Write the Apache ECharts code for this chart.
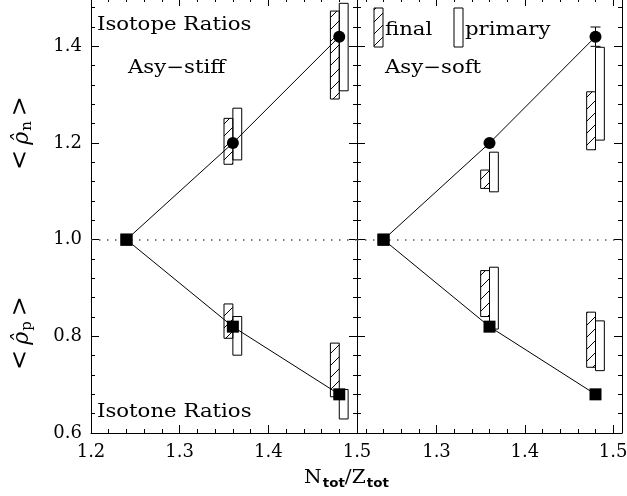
<!DOCTYPE html>
<html>
<head>
<meta charset="utf-8">
<script src="https://cdn.jsdelivr.net/npm/echarts@6/dist/echarts.min.js"></script>
<style>
html, body { margin: 0; padding: 0; background: #fff; }
#main { width: 627px; height: 496px; }
</style>
</head>
<body>
<div id="main"></div>
<script>
// N/Z of the three systems
var xVals = [1.24, 1.36, 1.48];
// mean ratios (line + dots)
var stiffN = [1.0, 1.2, 1.42];
var stiffP = [1.0, 0.82, 0.68];
var softN = [1.0, 1.2, 1.42];
var softP = [1.0, 0.82, 0.68];
// boxes [low, high] at x = 1.36 and 1.48
var barX = [1.36, 1.48];
var stiffFinalN = [[1.156, 1.251], [1.291, 1.473]];
var stiffPrimN = [[1.165, 1.272], [1.308, 1.489]];
var stiffFinalP = [[0.796, 0.867], [0.675, 0.786]];
var stiffPrimP = [[0.761, 0.841], [0.629, 0.690]];
var softFinalN = [[1.106, 1.144], [1.186, 1.306]];
var softPrimN = [[1.099, 1.181], [1.206, 1.398]];
var softFinalP = [[0.841, 0.936], [0.736, 0.850]];
var softPrimP = [[0.815, 0.943], [0.729, 0.832]];
// error bar on the soft 1.48 point: [x, low, high]
var softErr = [[1.48, 1.40, 1.44]];
// ticks
var yTicks = [0.6, 0.8, 1.0, 1.2, 1.4];
var xTicksL = [1.2, 1.3, 1.4, 1.5];
var xTicksR = [1.3, 1.4, 1.5];

function steps(a, b, d) {
    var out = [];
    for (var v = a; v <= b + 1e-9; v += d) out.push(Math.round(v * 1000) / 1000);
    return out;
}
var yMinor = steps(0.64, 1.48, 0.04);
var xMinorL = steps(1.22, 1.48, 0.02);
var xMinorR = steps(1.22, 1.50, 0.02);

var FONT = 'DejaVu Serif';

function hatchImg() {
    var c = document.createElement('canvas');
    c.width = 12; c.height = 12;
    var g = c.getContext('2d');
    g.strokeStyle = '#000';
    g.lineWidth = 1;
    g.beginPath();
    g.moveTo(0, 12); g.lineTo(12, 0);
    g.moveTo(-1, 1); g.lineTo(1, -1);
    g.moveTo(11, 13); g.lineTo(13, 11);
    g.stroke();
    return c;
}
var hatch = { image: hatchImg(), repeat: 'repeat' };

// four axes per side pair: major + minor ticks, both sides
function axes(dim, grid, min, max, major, minor, labels) {
    var pos = dim === 'x' ? ['bottom', 'top'] : ['left', 'right'];
    var list = [];
    pos.forEach(function (p, i) {
        [major, minor].forEach(function (vals, j) {
            list.push({
                type: 'value', gridIndex: grid, position: p,
                min: min, max: max,
                axisLine: { show: j === 0, onZero: false, lineStyle: { color: '#000', width: 1 } },
                axisTick: { show: true, inside: true, length: j === 0 ? 8 : 4, customValues: vals,
                    lineStyle: { color: '#000', width: 1 } },
                axisLabel: {
                    show: labels && i === 0 && j === 0,
                    customValues: vals,
                    color: '#000', fontFamily: FONT, fontSize: 18,
                    margin: dim === 'x' ? 10 : 9,
                    formatter: function (v) { return v.toFixed(1); }
                },
                splitLine: { show: false }
            });
        });
    });
    return list;
}

function boxes(finals, prims) {
    var d = [];
    barX.forEach(function (x, i) {
        d.push([x, finals[i][0], finals[i][1], 0]);
        d.push([x, prims[i][0], prims[i][1], 1]);
    });
    return d;
}

var barW = 0.01;
function renderBox(params, api) {
    var x = api.value(0), kind = api.value(3);
    var x0 = kind === 0 ? x - barW : x;
    var a = api.coord([x0, api.value(2)]);
    var b = api.coord([x0 + barW, api.value(1)]);
    return {
        type: 'rect',
        shape: { x: a[0], y: a[1], width: b[0] - a[0], height: b[1] - a[1] },
        style: { fill: kind === 0 ? hatch : 'none', stroke: '#000', lineWidth: 1 }
    };
}

function renderErr(params, api) {
    var lo = api.coord([api.value(0), api.value(1)]);
    var hi = api.coord([api.value(0), api.value(2)]);
    var st = { stroke: '#000', lineWidth: 1 };
    return {
        type: 'group',
        children: [
            { type: 'line', shape: { x1: lo[0], y1: lo[1], x2: hi[0], y2: hi[1] }, style: st },
            { type: 'line', shape: { x1: hi[0] - 5, y1: hi[1], x2: hi[0] + 5, y2: hi[1] }, style: st },
            { type: 'line', shape: { x1: lo[0] - 5, y1: lo[1], x2: lo[0] + 5, y2: lo[1] }, style: st }
        ]
    };
}

function pts(ys, sym) {
    return xVals.map(function (x, i) {
        var item = { value: [x, ys[i]] };
        if (i === 0) item.symbol = 'rect';
        else item.symbol = sym;
        return item;
    });
}

function lineSeries(ys, sym, xi, withRef) {
    var s = {
        type: 'line', xAxisIndex: xi, yAxisIndex: xi,
        data: pts(ys, sym), symbolSize: 12, z: 5,
        itemStyle: { color: '#000' },
        lineStyle: { color: '#000', width: 1 }
    };
    if (withRef) {
        s.markLine = {
            silent: true, symbol: 'none', label: { show: false },
            lineStyle: { color: '#555', width: 1.5, type: [1.5, 6.5] },
            data: [{ yAxis: 1.0 }]
        };
    }
    return s;
}

function boxSeries(data, xi) {
    return {
        type: 'custom', xAxisIndex: xi, yAxisIndex: xi, z: 3,
        renderItem: renderBox, data: data,
        encode: { x: 0, y: [1, 2] }
    };
}

var chart = echarts.init(document.getElementById('main'), null, { renderer: 'canvas' });

var txt = { fontFamily: FONT, fontSize: 18, fill: '#000', verticalAlign: 'middle' };
function label(x, y, s) {
    return { type: 'text', x: x, y: y, scaleX: 1.18, style: Object.assign({ text: s }, txt) };
}
function yTitle(y, sub) {
    return {
        type: 'text', x: 22, y: y, rotation: Math.PI / 2,
        style: {
            text: '{a|<}{r|ρ̂}{s|' + sub + '}{a|>}',
            align: 'center', verticalAlign: 'middle',
            rich: {
                a: { fontFamily: FONT, fontSize: 24, padding: [0, 5], verticalAlign: 'top' },
                r: { fontFamily: FONT, fontSize: 22, fontStyle: 'italic', verticalAlign: 'top', padding: [2, 0, 0, 0] },
                s: { fontFamily: FONT, fontSize: 15, padding: [11, 0, 0, 1], verticalAlign: 'top' }
            }
        }
    };
}

var option = {
    animation: false,
    grid: [
        { left: 91, top: -2, width: 266, height: 435, outerBoundsMode: 'none', containLabel: false },
        { left: 357, top: -2, width: 265, height: 435, outerBoundsMode: 'none', containLabel: false }
    ],
    xAxis: axes('x', 0, 1.2, 1.5, xTicksL, xMinorL, true)
        .concat(axes('x', 1, 1.21, 1.51, xTicksR, xMinorR, true)),
    yAxis: axes('y', 0, 0.6, 1.5, yTicks, yMinor, true)
        .concat(axes('y', 1, 0.6, 1.5, yTicks, yMinor, false)),
    series: [
        boxSeries(boxes(stiffFinalN, stiffPrimN), 0),
        boxSeries(boxes(stiffFinalP, stiffPrimP), 0),
        boxSeries(boxes(softFinalN, softPrimN), 4),
        boxSeries(boxes(softFinalP, softPrimP), 4),
        lineSeries(stiffN, 'circle', 0, true),
        lineSeries(stiffP, 'rect', 0, false),
        lineSeries(softN, 'circle', 4, true),
        lineSeries(softP, 'rect', 4, false),
        {
            type: 'custom', xAxisIndex: 4, yAxisIndex: 4, z: 4,
            renderItem: renderErr, data: softErr,
            encode: { x: 0, y: [1, 2] }
        }
    ],
    graphic: [
        label(97, 25, 'Isotope Ratios'),
        label(128, 68, 'Asy−stiff'),
        label(385, 68, 'Asy−soft'),
        label(97, 412, 'Isotone Ratios'),
        label(385, 30, 'final'),
        label(465, 30, 'primary'),
        { type: 'rect', shape: { x: 374, y: 8, width: 9, height: 39 },
          style: { fill: hatch, stroke: '#000', lineWidth: 1 } },
        { type: 'rect', shape: { x: 454, y: 8, width: 9, height: 39 },
          style: { fill: 'none', stroke: '#000', lineWidth: 1 } },
        yTitle(133, 'n'),
        yTitle(333, 'p'),
        {
            type: 'text', x: 304, y: 469, scaleX: 1.12,
            style: {
                text: '{m|N}{s|tot}{m|/Z}{s|tot}',
                verticalAlign: 'top',
                rich: {
                    m: { fontFamily: FONT, fontSize: 18, verticalAlign: 'top' },
                    s: { fontFamily: 'DejaVu Sans', fontSize: 12, fontWeight: 'bold', padding: [9, 0, 0, 1], verticalAlign: 'top' }
                }
            }
        }
    ]
};
chart.setOption(option);
</script>
</body>
</html>
